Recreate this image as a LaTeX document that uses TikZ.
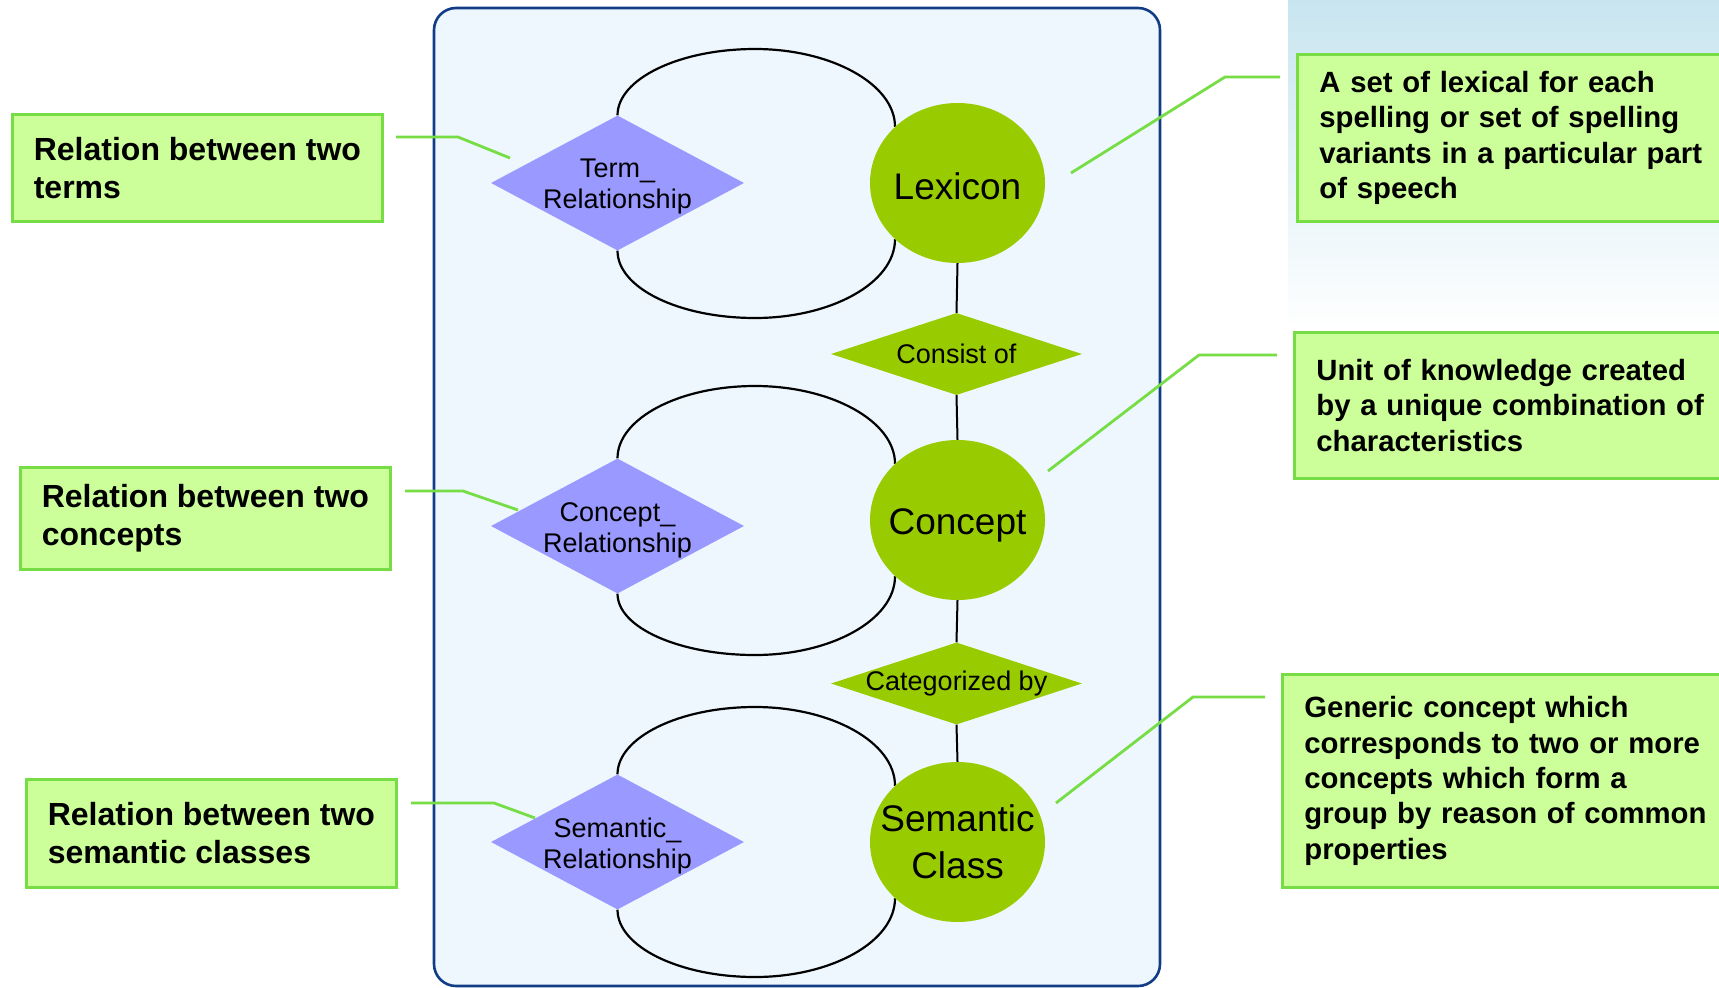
\documentclass[tikz,border=0pt]{standalone}
\usepackage{fontspec}
\setmainfont{Liberation Sans}
\usetikzlibrary{shapes.geometric,calc}

\pgfdeclarelayer{back}
\pgfdeclarelayer{mid}
\pgfsetlayers{back,mid,main}

\definecolor{panelfill}{HTML}{EEF7FE}
\definecolor{panelline}{HTML}{123C86}
\definecolor{notefill}{HTML}{CCFF99}
\definecolor{noteline}{HTML}{77DD44}
\definecolor{leafgreen}{HTML}{99CC00}
\definecolor{relviolet}{HTML}{9999FF}
\definecolor{skytint}{HTML}{C8E5EF}

\tikzset{
  note/.style={draw=noteline, line width=2.8pt, fill=notefill, anchor=north west,
    inner sep=0pt, align=left, font=\bfseries\fontsize{32pt}{38pt}\selectfont},
  widenote/.style={note, text width=406pt, inner xsep=22pt, minimum width=450pt,
    font=\bfseries\fontsize{29.3pt}{35.3pt}\selectfont},
  relation/.style={diamond, fill=relviolet, minimum width=253pt, minimum height=135pt, inner sep=0pt},
  linkage/.style={diamond, fill=leafgreen, minimum width=251pt, minimum height=82pt, inner sep=0pt},
  entity/.style={ellipse, fill=leafgreen, minimum width=175pt, minimum height=160pt, inner sep=0pt},
  reltext/.style={font=\fontsize{27pt}{31pt}\selectfont, align=center, yshift=-4pt},
  linktext/.style={font=\fontsize{27pt}{31pt}\selectfont, align=center},
  enttext/.style={font=\fontsize{37pt}{47pt}\selectfont, align=center},
  ring/.style={draw=black, line width=2.2pt},
  tie/.style={draw=black, line width=2pt},
  callout/.style={draw=noteline, line width=2.8pt}
}

\begin{document}
\begin{tikzpicture}[x=1pt,y=-1pt]
\path[use as bounding box] (0,0) rectangle (1719,988);
\clip (0,0) rectangle (1719,988);

% backdrop: tinted corner and the model panel
\begin{pgfonlayer}{back}
  \fill[top color=skytint, bottom color=white] (1288,0) rectangle (1719,330);
  \draw[panelline, line width=2.6pt, fill=panelfill, rounded corners=22pt]
    (434,8) rectangle (1160,986);
\end{pgfonlayer}

% relationship diamonds
\node[relation, label={[reltext]center:Term\_\\Relationship}] (tr) at (617.5,183) {};
\node[relation, label={[reltext]center:Concept\_\\Relationship}] (cr) at (617.5,526) {};
\node[relation, label={[reltext]center:Semantic\_\\Relationship}] (sr) at (617.5,842) {};

% entities
\node[entity, label={[enttext, yshift=-3pt]center:Lexicon}] (lex) at (957.5,183) {};
\node[entity, label={[enttext, yshift=-5pt]center:Concept}] (con) at (957.5,520) {};
\node[entity, label={[enttext]center:Semantic\\Class}] (sem) at (957.5,842) {};

% links between entities
\node[linkage, label={[linktext]center:Consist of}] (cons) at (956.5,354) {};
\node[linkage, label={[linktext]center:Categorized by}] (cat) at (956.5,683.5) {};

% explanatory notes
\node[note, minimum width=370pt, minimum height=107pt] (n1) at (11,113) {Relation between two\\terms};
\node[note, minimum width=370pt, minimum height=102pt] (n2) at (19,466) {Relation between two\\concepts};
\node[note, minimum width=370pt, minimum height=108pt] (n3) at (25,778) {Relation between two\\semantic classes};
\node[widenote, minimum height=167pt] (n4) at (1296,53)
  {A set of lexical for each\\spelling or set of spelling\\variants in a particular part\\of speech};
\node[widenote, minimum height=146pt] (n5) at (1293,331)
  {Unit of knowledge created\\by a unique combination of\\characteristics};
\node[widenote, minimum height=213pt] (n6) at (1281,673)
  {Generic concept which\\corresponds to two or more\\concepts which form a\\group by reason of common\\properties};

% callout line points
\coordinate (a1) at (396,137);  \coordinate (b1) at (458,137);  \coordinate (e1) at (510,158);
\coordinate (a2) at (405,491);  \coordinate (b2) at (463,491);  \coordinate (e2) at (518,510);
\coordinate (a3) at (411,803);  \coordinate (b3) at (494,803);  \coordinate (e3) at (535,818);
\coordinate (a4) at (1280,77);  \coordinate (b4) at (1225,77);  \coordinate (e4) at (1071,173);
\coordinate (a5) at (1277,355); \coordinate (b5) at (1199,355); \coordinate (e5) at (1048,471);
\coordinate (a6) at (1265,697); \coordinate (b6) at (1193,697); \coordinate (e6) at (1056,803);

\begin{pgfonlayer}{mid}
  % self-relationship loops, each as two elliptic halves
  \draw[ring] (tr.north) .. controls (617.5,79) and (679,49) .. (755,49)
                         .. controls (831,49) and (895,84) .. (lex.138);
  \draw[ring] (tr.south) .. controls (617.5,288) and (679,318) .. (755,318)
                         .. controls (831,318) and (895,283) .. (lex.222);
  \draw[ring] (cr.north) .. controls (617.5,418.5) and (679,386) .. (755,386)
                         .. controls (831,386) and (895,421) .. (con.138);
  \draw[ring] (cr.south) .. controls (617.5,627.5) and (679,655) .. (755,655)
                         .. controls (831,655) and (895,620) .. (con.222);
  \draw[ring] (sr.north) .. controls (617.5,737.5) and (679,707) .. (755,707)
                         .. controls (831,707) and (895,742) .. (sem.138);
  \draw[ring] (sr.south) .. controls (617.5,946.5) and (679,977) .. (755,977)
                         .. controls (831,977) and (895,942) .. (sem.222);
  % vertical chain
  \draw[tie] (lex.south) -- (cons.north);
  \draw[tie] (cons.south) -- (con.north);
  \draw[tie] (con.south) -- (cat.north);
  \draw[tie] (cat.south) -- (sem.north);
  % callouts
  \foreach \i in {1,...,6}{
    \draw[callout] (a\i) -- (b\i) -- (e\i);
  }
\end{pgfonlayer}
\end{tikzpicture}
\end{document}
